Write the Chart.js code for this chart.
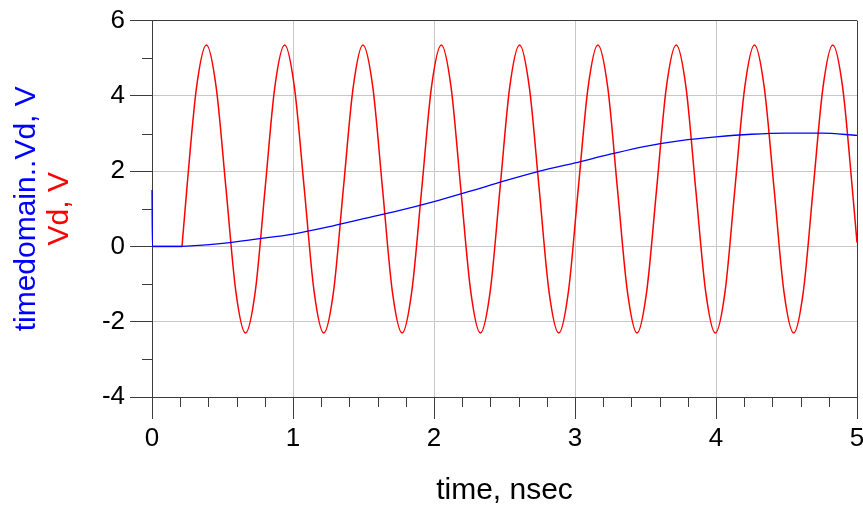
<!DOCTYPE html>
<html>
<head>
<meta charset="utf-8">
<script src="https://cdn.jsdelivr.net/npm/chart.js@4/dist/chart.umd.min.js"></script>
<style>
  html, body { margin: 0; padding: 0; background: #ffffff; }
  #wrap { width: 863px; height: 512px; }
</style>
</head>
<body>
<div id="wrap"><canvas id="c" width="863" height="512"></canvas></div>
<script>
// ---- data ----
const blueTimes  = [0, 0.003, 0.25, 0.5, 0.75, 1.0, 1.25, 1.5, 1.75, 2.0, 2.25, 2.5, 2.75, 3.0, 3.25, 3.5, 3.75, 4.0, 4.25, 4.5, 4.75, 5.0];
const blueValues = [1.5, 0, 0.01, 0.08, 0.2, 0.33, 0.52, 0.74, 0.95, 1.19, 1.46, 1.74, 2.0, 2.22, 2.45, 2.66, 2.81, 2.91, 2.98, 3.01, 3.01, 2.95];

const redTimes = [0, 0.213, 0.216, 0.247, 0.316, 0.386, 0.455, 0.525, 0.594, 0.663, 0.733,
  0.802, 0.871, 0.941, 1.010, 1.080, 1.149, 1.218, 1.288,
  1.357, 1.427, 1.496, 1.566, 1.635, 1.704, 1.774, 1.843,
  1.913, 1.982, 2.052, 2.121, 2.190, 2.260, 2.329, 2.399,
  2.468, 2.537, 2.607, 2.676, 2.746, 2.815, 2.885, 2.954,
  3.023, 3.093, 3.162, 3.232, 3.301, 3.371, 3.440, 3.509,
  3.579, 3.648, 3.718, 3.787, 3.856, 3.926, 3.995, 4.065,
  4.134, 4.204, 4.273, 4.342, 4.412, 4.481, 4.551, 4.620,
  4.689, 4.759, 4.828, 4.898, 4.967, 5.0];
const redValues = [0, 0, 0.15, 1.53, 4.23, 5.35, 4.23, 1.53, -1.18, -2.30, -1.18,
  1.53, 4.23, 5.35, 4.23, 1.53, -1.18, -2.30, -1.18,
  1.53, 4.23, 5.35, 4.23, 1.53, -1.18, -2.30, -1.18,
  1.53, 4.23, 5.35, 4.23, 1.53, -1.18, -2.30, -1.18,
  1.53, 4.23, 5.35, 4.23, 1.53, -1.18, -2.30, -1.18,
  1.53, 4.23, 5.35, 4.23, 1.53, -1.18, -2.30, -1.18,
  1.53, 4.23, 5.35, 4.23, 1.53, -1.18, -2.30, -1.18,
  1.53, 4.23, 5.35, 4.23, 1.53, -1.18, -2.30, -1.18,
  1.53, 4.23, 5.35, 4.23, 1.53, 0.1];

const xTitle = 'time, nsec';
const yTitleBlue = 'timedomain..Vd, V';
const yTitleRed = 'Vd, V';
const xRange = [0, 5];
const yRange = [-4, 6];

// ---- style ----
const FONT = "Arial, 'Liberation Sans', sans-serif";
const AXIS = '#3c3c3c';
const GRID = '#c8c8c8';

const toPoints = (xs, ys) => xs.map((t, i) => ({ x: t, y: ys[i] }));

const extras = {
  id: 'extras',
  afterDraw(chart) {
    const { ctx, scales: { x, y } } = chart;
    ctx.save();
    ctx.strokeStyle = AXIS;
    ctx.lineWidth = 1;
    ctx.beginPath();
    // minor ticks x (every 0.2)
    for (let k = 1; k < 25; k++) {
      if (k % 5 === 0) continue;
      const px = Math.round(x.getPixelForValue(k * 0.2)) + 0.5;
      ctx.moveTo(px, y.bottom);
      ctx.lineTo(px, y.bottom + 10);
    }
    // minor ticks y (odd values)
    for (let v = -3; v <= 5; v += 2) {
      const py = Math.round(y.getPixelForValue(v)) + 0.5;
      ctx.moveTo(x.left - 10, py);
      ctx.lineTo(x.left, py);
    }
    ctx.stroke();
    // y titles (two coloured lines)
    const cy = (y.top + y.bottom) / 2;
    ctx.font = '30px ' + FONT;
    ctx.textAlign = 'center';
    ctx.textBaseline = 'middle';
    ctx.translate(27, cy);
    ctx.rotate(-Math.PI / 2);
    ctx.fillStyle = '#0000ff';
    ctx.fillText(yTitleBlue, 0, 0);
    ctx.fillStyle = '#ff0000';
    ctx.fillText(yTitleRed, 0, 33);
    ctx.restore();
  }
};

new Chart(document.getElementById('c'), {
  type: 'line',
  data: {
    datasets: [
      {
        label: yTitleBlue,
        data: toPoints(blueTimes, blueValues),
        borderColor: '#0000ff',
        borderWidth: 1.3,
        pointRadius: 0,
        cubicInterpolationMode: 'monotone',
        clip: 3,
        fill: false
      },
      {
        label: yTitleRed,
        data: toPoints(redTimes, redValues),
        borderColor: '#ff0000',
        borderWidth: 1.5,
        pointRadius: 0,
        cubicInterpolationMode: 'monotone',
        clip: 3,
        fill: false
      }
    ]
  },
  options: {
    responsive: false,
    animation: false,
    events: [],
    layout: { padding: { top: 19, right: 0, left: 0, bottom: 0 } },
    plugins: { legend: { display: false }, tooltip: { enabled: false } },
    scales: {
      x: {
        type: 'linear',
        min: xRange[0], max: xRange[1],
        ticks: { stepSize: 1, color: '#000', font: { family: FONT, size: 26 }, padding: 4, maxRotation: 0 },
        grid: {
          color: c => (c.tick && c.tick.value === xRange[1]) ? AXIS : GRID,
          tickColor: AXIS,
          tickLength: 22,
          lineWidth: 1
        },
        border: { color: AXIS, width: 1 },
        title: { display: true, text: xTitle, color: '#000', font: { family: FONT, size: 30 }, padding: { top: 0, bottom: 3 } },
        afterFit: s => { s.height = 115; s.paddingRight = 6; s.paddingLeft = 0; }
      },
      y: {
        type: 'linear',
        min: yRange[0], max: yRange[1],
        ticks: { stepSize: 2, color: '#000', font: { family: FONT, size: 26 }, padding: 5 },
        grid: {
          color: c => (c.tick && c.tick.value === yRange[1]) ? AXIS : GRID,
          tickColor: AXIS,
          tickLength: 22,
          lineWidth: 1
        },
        border: { color: AXIS, width: 1 },
        afterFit: s => { s.width = 152; }
      }
    }
  },
  plugins: [extras]
});
</script>
</body>
</html>
